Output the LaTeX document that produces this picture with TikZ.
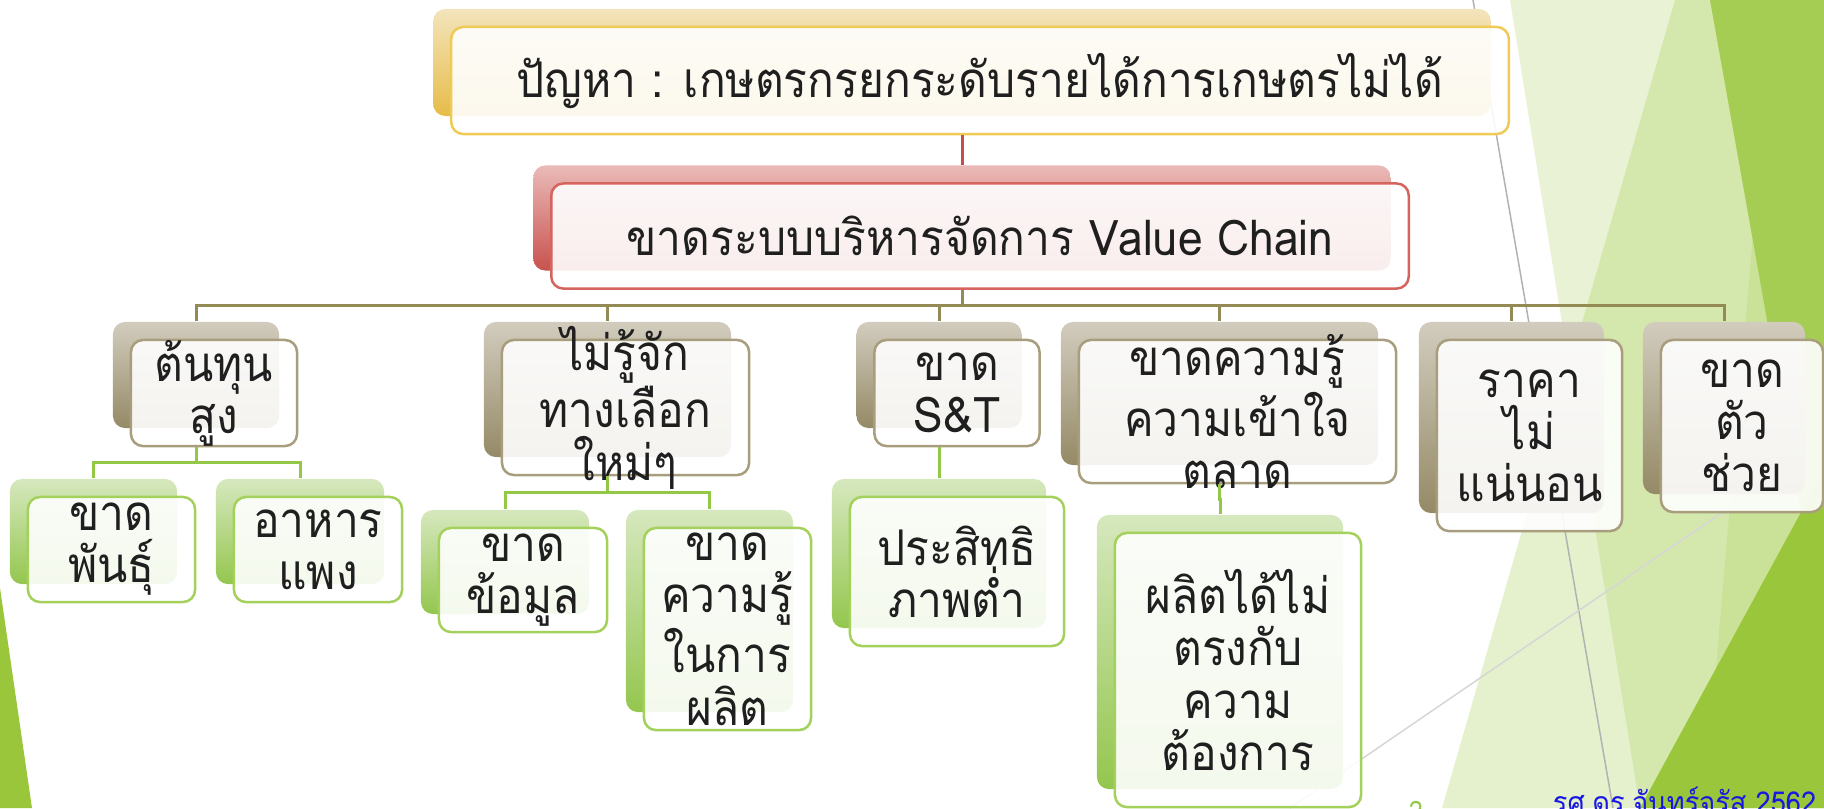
\documentclass[tikz,border=0pt]{standalone}
\usepackage{fontspec}
\newfontfamily\thaifont[Script=Thai, FakeStretch=0.9]{Loma}
\usetikzlibrary{calc}

\definecolor{yelTop}{RGB}{243,228,188}
\definecolor{yelBot}{RGB}{230,188,72}
\definecolor{yelEdge}{RGB}{240,202,86}
\definecolor{redTop}{RGB}{234,186,184}
\definecolor{redBot}{RGB}{200,82,78}
\definecolor{redEdge}{RGB}{214,100,94}
\definecolor{tanTop}{RGB}{210,204,190}
\definecolor{tanBot}{RGB}{148,138,102}
\definecolor{tanEdge}{RGB}{168,158,126}
\definecolor{grnTop}{RGB}{214,232,190}
\definecolor{grnBot}{RGB}{148,198,78}
\definecolor{grnEdge}{RGB}{164,208,92}
\definecolor{redLine}{RGB}{192,80,77}
\definecolor{tanLine}{RGB}{148,138,84}
\definecolor{grnLine}{RGB}{146,200,70}
\definecolor{facet}{RGB}{154,198,60}
\definecolor{signBlue}{RGB}{24,24,226}

\tikzset{
  backcard/.style={rounded corners=1.2mm, top color=#1Top, bottom color=#1Bot, draw=none},
  frontcard/.style={rounded corners=1.2mm, draw=#1Edge, line width=.025cm, fill=white, fill opacity=.9},
  cardtext/.style={font=\thaifont\fontsize{14}{14.8}\selectfont, align=center, inner sep=0pt, text=black!88},
  treeline/.style={line width=.03cm, draw=#1Line},
}

\begin{document}
\begin{tikzpicture}[x=0.01cm, y=-0.01cm]
\useasboundingbox (0,0) rectangle (1824,808);
\def\twocard#1#2#3#4#5#6{%
  \node[backcard=#5, minimum width=#3, minimum height=#4] (#1) at (#2) {};
  \node[frontcard=#5, minimum width=#3, minimum height=#4] (#1f) at ([shift={(18,18)}]#1.center) {};
  \node[cardtext] (#1t) at (#1f) {#6};}
\def\treelink#1#2{(#1f.south -| #1.center) |- ($(#1f.south -| #1.center)!.5!(#2.north)$) -| (#2.north)}

% facets of the slide
\fill[facet] (0,588) -- (32,808) -- (0,808) -- cycle;
\fill[facet, opacity=.22] (1510,0) -- (1824,0) -- (1824,808) -- (1640,808) -- cycle;
\fill[facet, opacity=.26] (1675,0) -- (1824,0) -- (1824,808) -- (1442,808) -- cycle;
\fill[facet, opacity=.18] (1773,0) -- (1824,0) -- (1824,808) -- (1704,808) -- cycle;
\fill[facet!88!white] (1710,0) -- (1824,0) -- (1824,640) -- cycle;
\fill[facet] (1824,470) -- (1824,808) -- (1640,808) -- cycle;
\draw[black!30, line width=.015cm] (1473,0) -- (1613,808);
\draw[black!16, line width=.015cm] (1730,507) -- (1290,808);

\twocard{prob}{962,62.5}{10.57cm}{1.07cm}{yel}{ปัญหา : เกษตรกรยกระดับรายได้การเกษตรไม่ได้}
\twocard{vc}{962,218}{8.57cm}{1.05cm}{red}{ขาดระบบบริหารจัดการ Value Chain}

\twocard{cost}{196,375}{1.66cm}{1.06cm}{tan}{ต้นทุน\\สูง}
\twocard{alt}{607.5,389.5}{2.47cm}{1.35cm}{tan}{ไม่รู้จัก\\ทางเลือก\\ใหม่ๆ}
\twocard{st}{939,375}{1.65cm}{1.06cm}{tan}{ขาด\\S\&T}
\twocard{mkt}{1219.5,393.5}{3.17cm}{1.43cm}{tan}{ขาดความรู้\\ความเข้าใจ\\ตลาด}
\twocard{price}{1511.5,417.5}{1.85cm}{1.91cm}{tan}{ราคา\\ไม่\\แน่นอน}
\twocard{aid}{1724,408}{1.62cm}{1.72cm}{tan}{ขาด\\ตัว\\ช่วย}

\twocard{seed}{93.5,531.5}{1.67cm}{1.05cm}{grn}{ขาด\\พันธุ์}
\twocard{feed}{300,531.5}{1.68cm}{1.05cm}{grn}{อาหาร\\แพง}
\twocard{data}{505,562}{1.68cm}{1.04cm}{grn}{ขาด\\ข้อมูล}
\twocard{know}{709.5,611}{1.67cm}{2.02cm}{grn}{ขาด\\ความรู้\\ในการ\\ผลิต}
\twocard{eff}{939,553.5}{2.14cm}{1.49cm}{grn}{ประสิทธิ\\ภาพต่ำ}
\twocard{fit}{1220,652}{2.46cm}{2.74cm}{grn}{ผลิตได้ไม่\\ตรงกับ\\ความ\\ต้องการ}

\draw[treeline=red] \treelink{prob}{vc};
\foreach \c in {cost,alt,st,mkt,price,aid}
  \draw[treeline=tan] \treelink{vc}{\c};
\draw[treeline=grn] \treelink{cost}{seed} \treelink{cost}{feed}
  \treelink{alt}{data} \treelink{alt}{know} \treelink{st}{eff} \treelink{mkt}{fit};

\node[font=\thaifont\fontsize{8.6}{8.6}\selectfont, text=signBlue, anchor=base east, inner sep=0pt] (sign) at (1817,813) {รศ.ดร.จันทร์จรัส 2562};
\node[font=\thaifont\fontsize{8}{8}\selectfont, text=grnLine, anchor=north, inner sep=0pt] (slide) at (1416,801) {2};
\end{tikzpicture}
\end{document}
